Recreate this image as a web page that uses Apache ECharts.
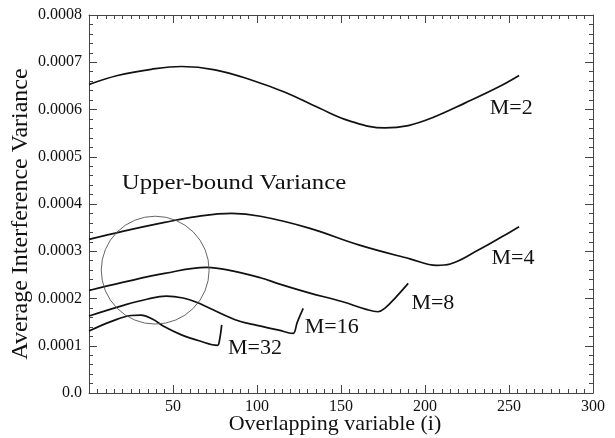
<!DOCTYPE html>
<html>
<head>
<meta charset="utf-8">
<script src="https://cdn.jsdelivr.net/npm/echarts@6/dist/echarts.min.js"></script>
<style>
  html, body { margin: 0; padding: 0; background: #fff; }
  #main { width: 615px; height: 438px; }
</style>
</head>
<body>
<div id="main"></div>
<script>
// curves: [i, variance]
var m2 = [[0,0.000653],[17,0.000672],[37,0.000685],[55,0.000691],[75,0.000684],[97,0.000662],[117,0.000636],[137,0.000603],[155,0.000576],[176,0.000561],[190,0.000566],[204,0.000582],[224,0.000614],[244,0.000648],[256,0.000672]];
var m4 = [[0,0.000325],[20,0.000342],[45,0.000361],[65,0.000374],[85,0.00038],[102,0.000374],[131,0.000349],[161,0.000313],[191,0.000284],[207,0.00027],[215,0.000273],[232,0.000303],[246,0.000331],[256,0.000352]];
var m8 = [[0,0.000217],[20,0.000234],[45,0.000253],[70,0.000266],[86,0.000258],[102,0.000244],[114,0.00023],[131,0.000212],[151,0.000193],[165,0.000177],[172,0.000172],[176,0.000179],[183,0.000204],[190,0.000232]];
var m16 = [[0,0.000163],[20,0.000185],[35,0.000199],[46,0.000205],[56,0.000201],[64,0.000192],[87,0.000155],[100,0.000143],[113,0.000133],[119,0.000127],[121.5,0.000126],[124,0.00015],[127.5,0.000179]];
var m32 = [[0,0.000131],[13,0.000151],[25,0.000164],[31,0.000165],[38,0.000156],[45,0.00014],[55,0.000123],[66,0.00011],[76.5,0.000101],[77.5,0.000108],[79,0.000144]];

var seriesNames = ['M=2', 'M=4', 'M=8', 'M=16', 'M=32'];
var seriesData = [m2, m4, m8, m16, m32];

// where the text annotations sit (data coords)
var notes = [
    {text: 'M=2', at: [238.5, 0.000603]},
    {text: 'M=4', at: [239.6, 0.000285]},
    {text: 'M=8', at: [191.9, 0.00019]},
    {text: 'M=16', at: [128.4, 0.00014]},
    {text: 'M=32', at: [82.7, 0.0000945]},
    {text: 'Upper-bound Variance', at: [19.5, 0.000444], stretch: 1.18}
];
var circleCenter = [39.4, 0.00026];
var circleRadiusX = 32.1;

var FONT = '"Liberation Serif", "Times New Roman", serif';
var frame = '#444';

var chart = echarts.init(document.getElementById('main'));

function tickAxis(extra, split) {
    var base = {
        axisLine: {show: true, onZero: false, lineStyle: {color: frame, width: 1}},
        axisTick: {show: true, inside: true, length: 8, lineStyle: {color: frame}},
        minorTick: {show: true, splitNumber: split, length: 4, lineStyle: {color: frame}},
        splitLine: {show: false},
        minorSplitLine: {show: false}
    };
    return Object.assign(base, extra);
}

var option = {
    animation: false,
    backgroundColor: '#fff',
    grid: {left: 89, right: 22, top: 15, bottom: 45, containLabel: false, outerBoundsMode: 'none'},
    xAxis: [
        tickAxis({
            type: 'value', min: 0, max: 300, interval: 50,
            name: 'Overlapping variable (i)',
            nameLocation: 'middle', nameGap: 20, nameMoveOverlap: false,
            nameTextStyle: {fontFamily: FONT, fontSize: 22, color: '#111', padding: [0, 12, 0, 0]},
            axisLabel: {
                margin: 6, fontFamily: FONT, fontSize: 16, color: '#111',
                formatter: function (v) { return v === 0 ? '' : String(v); }
            }
        }, 10),
        tickAxis({
            type: 'value', min: 0, max: 300, interval: 50, position: 'top',
            axisLabel: {show: false}
        }, 10)
    ],
    yAxis: [
        tickAxis({
            type: 'value', min: 0, max: 0.0008, interval: 0.0001,
            name: 'Average Interference Variance',
            nameLocation: 'middle', nameGap: 56, nameRotate: 90, nameMoveOverlap: false,
            nameTextStyle: {fontFamily: FONT, fontSize: 24, color: '#111', padding: [0, 20, 0, 0]},
            axisLabel: {
                margin: 7, fontFamily: FONT, fontSize: 16, color: '#111',
                formatter: function (v) { return v === 0 ? '0.0' : v.toFixed(4); }
            }
        }, 5),
        tickAxis({
            type: 'value', min: 0, max: 0.0008, interval: 0.0001, position: 'right',
            axisLabel: {show: false}
        }, 5)
    ],
    series: seriesData.map(function (d, k) {
        return {
            name: seriesNames[k],
            type: 'line',
            data: d,
            showSymbol: false,
            smooth: 0.4,
            lineStyle: {color: '#111', width: 1.7}
        };
    })
};

chart.setOption(option);

// annotations, placed through the axes
var graphics = notes.map(function (n) {
    var p = chart.convertToPixel({gridIndex: 0}, n.at);
    return {
        type: 'text', x: p[0], y: p[1], z: 10,
        scaleX: n.stretch || 1,
        style: {
            text: n.text, fill: '#111', fontFamily: FONT,
            fontSize: n.stretch ? 21 : 22,
            align: 'left', verticalAlign: 'middle'
        }
    };
});
var c = chart.convertToPixel({gridIndex: 0}, circleCenter);
var e = chart.convertToPixel({gridIndex: 0}, [circleCenter[0] + circleRadiusX, circleCenter[1]]);
graphics.push({
    type: 'circle', z: 5,
    shape: {cx: c[0], cy: c[1], r: e[0] - c[0]},
    style: {fill: null, stroke: '#555', lineWidth: 0.9}
});
chart.setOption({graphic: graphics});
</script>
</body>
</html>
